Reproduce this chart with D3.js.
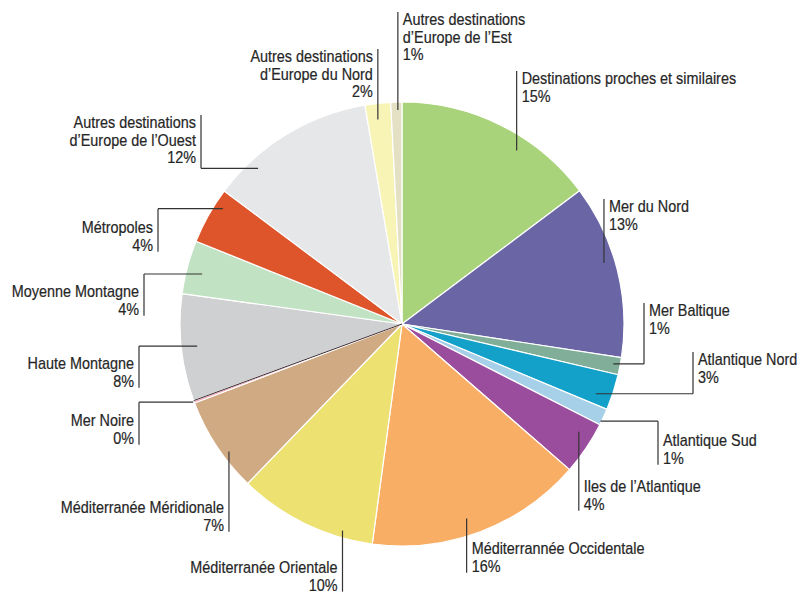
<!DOCTYPE html>
<html>
<head>
<meta charset="utf-8">
<script src="https://cdn.jsdelivr.net/npm/d3@7"></script>
<style>
  html, body { margin: 0; padding: 0; background: #fff; }
  svg text { font-family: "Liberation Sans", Arial, sans-serif; font-size: 16px; fill: #262626; stroke: #262626; stroke-width: 0.2px; }
</style>
</head>
<body>
<svg id="chart" width="801" height="593"></svg>
<script>
// Répartition des destinations (en %), dans le sens horaire depuis midi
const categories = [
  ["Destinations proches et similaires"],
  ["Mer du Nord"],
  ["Mer Baltique"],
  ["Atlantique Nord"],
  ["Atlantique Sud"],
  ["Iles de l\u2019Atlantique"],
  ["Méditerrannée Occidentale"],
  ["Méditerranée Orientale"],
  ["Méditerranée Méridionale"],
  ["Mer Noire"],
  ["Haute Montagne"],
  ["Moyenne Montagne"],
  ["Métropoles"],
  ["Autres destinations", "d\u2019Europe de l\u2019Ouest"],
  ["Autres destinations", "d\u2019Europe du Nord"],
  ["Autres destinations", "d\u2019Europe de l\u2019Est"]
];
const shares = [14.75, 12.67, 1.25, 2.61, 1.22, 3.89, 15.75, 10.1, 6.97, 0.18, 7.8, 3.89, 4.14, 12.11, 1.86, 0.81];
const colors = ["#a9d37b", "#6a66a5", "#80ae98", "#13a1c9", "#a6cfe8", "#9a4c9d", "#f9ae66", "#ede172",
                "#d0aa82", "#f2a2b2", "#cfd0d2", "#c2e2c4", "#de552b", "#e6e7e8", "#f8f4b5", "#e4e0c3"];

// Placement des étiquettes : point d'ancrage dans la part (fraction de l'angle, rayon),
// abscisse du trait vertical (null = à l'aplomb de l'ancrage), côté du texte, première ligne de base
const labelLayout = [
  { f: 0.63, r: 208, lx: null, side: "right", y: 84 },
  { f: 0.44, r: 211, lx: null, side: "right", y: 212 },
  { f: 0.44, r: 215, lx: 644,  side: "right", y: 316 },
  { f: 0.70, r: 206, lx: 693,  side: "right", y: 365 },
  { f: 0.79, r: 221, lx: 658,  side: "right", y: 446 },
  { f: 0.31, r: 207, lx: null, side: "right", y: 492 },
  { f: 0.54, r: 205, lx: null, side: "right", y: 554 },
  { f: 0.23, r: 215, lx: null, side: "left",  y: 573 },
  { f: 0.38, r: 215, lx: null, side: "left",  y: 513 },
  { f: 0.50, r: 223, lx: 139,  side: "left",  y: 426 },
  { f: 0.50, r: 206, lx: 139,  side: "left",  y: 369 },
  { f: 0.44, r: 206, lx: 144,  side: "left",  y: 297 },
  { f: 0.73, r: 213, lx: 158,  side: "left",  y: 233 },
  { f: 0.24, r: 212, lx: 201,  side: "left",  y: 128 },
  { f: 0.43, r: 206, lx: null, side: "left",  y: 62 },
  { f: 0.62, r: 214, lx: null, side: "right", y: 25 }
];

const cx = 402, cy = 324, radius = 222, lineH = 17.7, narrow = 0.9;
const svg = d3.select("#chart");

const data = shares.map((v, i) => ({ name: categories[i], value: v, color: colors[i], layout: labelLayout[i] }));

const pie = d3.pie().value(d => d.value).sort(null);
const arcs = pie(data);
const arc = d3.arc().innerRadius(0).outerRadius(radius);

const g = svg.append("g").attr("transform", `translate(${cx},${cy})`);

g.selectAll("path.slice")
  .data(arcs)
  .join("path")
  .attr("class", "slice")
  .attr("d", arc)
  .attr("fill", d => d.data.color)
  .attr("stroke", "#fff")
  .attr("stroke-width", 1.2)
  .attr("stroke-linejoin", "round");

// Liseré sombre de la part « Mer Noire »
const noire = arcs[9];
g.append("line")
  .attr("x1", 0).attr("y1", 0)
  .attr("x2", radius * Math.sin(noire.endAngle))
  .attr("y2", -radius * Math.cos(noire.endAngle))
  .attr("stroke", "#3a2a30").attr("stroke-width", 1);

const fmt = v => Math.round(v) + "%";

// Étiquettes avec traits de rappel (texte en chasse étroite)
const labels = svg.append("g");
arcs.forEach(a => {
  const L = a.data.layout;
  const ang = a.startAngle + L.f * (a.endAngle - a.startAngle);
  const ax = cx + L.r * Math.sin(ang);
  const ay = cy - L.r * Math.cos(ang);
  const lx = L.lx == null ? ax : L.lx;
  const lines = a.data.name.concat([fmt(a.data.value)]);
  const lastBase = L.y + (lines.length - 1) * lineH;
  const top = Math.min(ay, L.y - 13);
  const bottom = Math.max(ay, lastBase + 1);

  const path = d3.path();
  if (L.lx != null) { path.moveTo(ax, ay); path.lineTo(lx, ay); }
  path.moveTo(lx, top); path.lineTo(lx, bottom);
  labels.append("path")
    .attr("d", path.toString())
    .attr("fill", "none")
    .attr("stroke", "#333")
    .attr("stroke-width", 1.2);

  const right = L.side === "right";
  const t = labels.append("text")
    .attr("transform", `translate(${right ? lx + 5 : lx - 5},0) scale(${narrow},1)`)
    .attr("text-anchor", right ? "start" : "end");
  lines.forEach((s, k) => {
    t.append("tspan")
      .attr("x", 0)
      .attr("y", L.y + k * lineH)
      .text(s);
  });
});
</script>
</body>
</html>
